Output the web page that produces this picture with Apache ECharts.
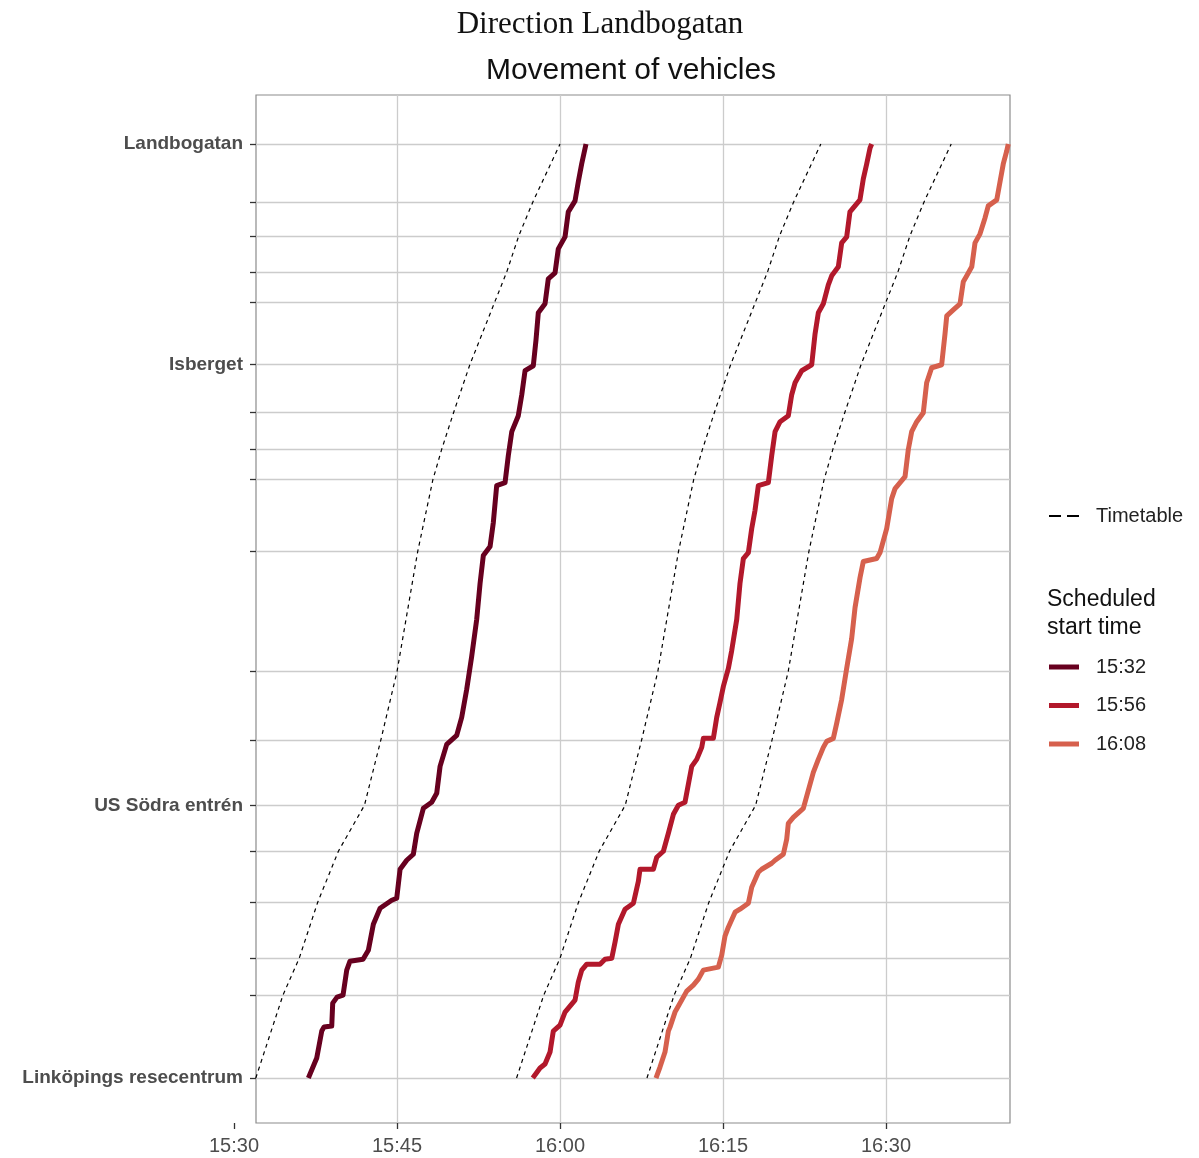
<!DOCTYPE html>
<html>
<head>
<meta charset="utf-8">
<script src="https://cdn.jsdelivr.net/npm/echarts@6/dist/echarts.min.js"></script>
<style>
html,body{margin:0;padding:0;background:#fff;}
#chart{width:1199px;height:1158px;}
</style>
</head>
<body>
<div id="chart"></div>
<script>
// Stops: distance along route (arbitrary units) from Linköpings resecentrum
const stopDist = [0, 83, 120, 176, 227, 273, 338, 407, 527, 599, 629, 666, 714, 777, 807, 843, 877, 935];
const labelNames = ['Linköpings resecentrum', 'US Södra entrén', 'Isberget', 'Landbogatan'];
const labelDist = [0, 273, 714, 935];

// Time in minutes after 15:00
const xTickValues = [30, 45, 60, 75, 90];

// Timetable times at each stop (minutes after 15:00)
const tt1532 = [32.0, 34.5, 36.0, 37.7, 39.6, 42.0, 43.5, 45.0, 46.9, 48.3, 49.1, 50.2, 51.7, 54.0, 55.1, 56.2, 57.5, 60.0];
const tt1556 = [56.0, 58.5, 60.0, 61.7, 63.6, 66.0, 67.5, 69.0, 70.9, 72.3, 73.1, 74.2, 75.7, 78.0, 79.1, 80.2, 81.5, 84.0];
const tt1608 = [68.0, 70.5, 72.0, 73.7, 75.6, 78.0, 79.5, 81.0, 82.9, 84.3, 85.1, 86.2, 87.7, 90.0, 91.1, 92.2, 93.5, 96.0];

// Observed vehicle movement: [minutes after 15:00, distance]
const veh1532 = [[36.84,0],[37.61,20],[38.07,47],[38.28,51],[38.99,52],[39.08,75],[39.48,81],[40.03,83],[40.37,108],[40.67,117],[41.87,119],[42.36,128],[42.82,154],[43.44,170],[44.51,178],[44.97,180],[45.28,209],[45.89,218],[46.50,224],[46.81,245],[47.42,270],[48.19,276],[48.65,285],[48.96,312],[49.57,334],[50.49,343],[50.95,361],[51.41,389],[51.87,422],[52.33,459],[52.64,495],[52.94,523],[53.56,532],[53.86,556],[54.17,593],[54.94,596],[55.24,623],[55.56,647],[56.16,663],[56.48,684],[56.78,708],[57.54,713],[57.79,739],[58.00,766],[58.62,775],[58.92,800],[59.54,806],[59.84,830],[60.46,842],[60.76,867],[61.38,878],[61.68,897],[61.99,915],[62.39,935]];
const veh1556 = [[57.49,0],[58.16,10],[58.62,14],[59.08,26],[59.38,47],[60.00,53],[60.46,66],[61.38,78],[61.68,96],[62.00,108],[62.46,114],[63.68,114],[64.14,119],[64.76,120],[65.06,136],[65.37,154],[65.98,169],[66.75,175],[67.21,197],[67.36,209],[68.59,209],[68.90,221],[69.51,227],[69.97,245],[70.43,264],[70.89,273],[71.50,276],[71.81,294],[72.12,312],[72.58,319],[73.04,331],[73.19,340],[74.11,340],[74.42,361],[74.72,376],[75.03,392],[75.49,410],[75.80,428],[76.26,459],[76.56,495],[76.87,520],[77.33,526],[77.64,550],[77.94,568],[78.25,593],[79.17,596],[79.48,623],[79.79,647],[80.25,657],[81.01,663],[81.32,684],[81.63,696],[82.24,708],[83.16,714],[83.47,745],[83.77,766],[84.23,775],[84.69,794],[85.00,803],[85.61,812],[85.92,836],[86.38,842],[86.68,867],[87.60,879],[87.91,900],[88.22,915],[88.53,931],[88.68,935]];
const veh1608 = [[68.83,0],[69.20,11],[69.66,26],[69.97,47],[70.12,51],[70.58,66],[70.74,69],[71.35,81],[71.66,87],[72.27,93],[72.73,99],[73.19,108],[74.57,111],[74.88,123],[75.18,142],[75.49,151],[76.11,166],[76.56,169],[77.33,175],[77.64,191],[78.25,206],[78.56,209],[79.48,215],[79.79,218],[80.55,224],[80.86,239],[81.01,255],[81.47,261],[82.39,270],[82.85,288],[83.31,306],[83.77,319],[84.23,331],[84.54,337],[85.15,340],[85.46,355],[85.92,379],[86.38,410],[86.84,440],[87.15,471],[87.61,501],[87.91,517],[89.14,520],[89.45,526],[90.06,550],[90.52,580],[90.83,590],[91.29,596],[91.75,602],[92.05,629],[92.36,647],[92.83,657],[93.43,666],[93.74,696],[94.20,711],[94.35,711],[95.12,714],[95.43,745],[95.59,763],[96.19,769],[96.81,775],[97.11,797],[97.43,803],[97.89,812],[98.19,836],[98.65,845],[99.11,861],[99.41,873],[100.19,879],[100.49,897],[100.79,915],[101.11,928],[101.25,935]];

function fmtTime(v) {
  const total = 15 * 60 + Math.round(v);
  const h = Math.floor(total / 60), m = total % 60;
  return h + ':' + (m < 10 ? '0' : '') + m;
}
function zipStops(times) { return times.map((t, i) => [t, stopDist[i]]); }

const chart = echarts.init(document.getElementById('chart'));
const sans = 'Liberation Sans, Arial, sans-serif';
const gridCommon = { top: 95, bottom: 35, right: 189 };

const vehColors = { '15:32': '#67001F', '15:56': '#B2182B', '16:08': '#D6604D' };
function vehSeries(name, data) {
  return {
    name: name, type: 'line', xAxisIndex: 0, yAxisIndex: 0, data: data,
    symbol: 'none', z: 4,
    lineStyle: { color: vehColors[name], width: 5, join: 'round' },
    itemStyle: { color: vehColors[name] }
  };
}
function ttSeries(times) {
  return {
    name: 'Timetable', type: 'line', xAxisIndex: 0, yAxisIndex: 0, data: zipStops(times),
    symbol: 'none', z: 3,
    lineStyle: { color: '#000', width: 1.2, type: [4, 4] },
    itemStyle: { color: '#000' }
  };
}

chart.setOption({
  animation: false,
  backgroundColor: '#fff',
  title: [
    { text: 'Direction Landbogatan', left: 600, top: 9, textAlign: 'center', padding: 0,
      textStyle: { fontFamily: 'Liberation Serif, serif', fontSize: 31, fontWeight: 'normal', color: '#111' } },
    { text: 'Movement of vehicles', left: 631, top: 56, textAlign: 'center', padding: 0,
      textStyle: { fontFamily: sans, fontSize: 30, fontWeight: 'normal', color: '#111' } }
  ],
  graphic: [
    { type: 'text', left: 1047, top: 586,
      style: { text: 'Scheduled\nstart time', font: '23px Liberation Sans', lineHeight: 28, fill: '#111' } }
  ],
  legend: [
    { data: [{ name: 'Timetable', icon: 'path://M0,0h12v2h-12zM18,0h12v2h-12z' }],
      left: 1049, top: 506, padding: 0, itemWidth: 30, itemHeight: 2, symbolKeepAspect: false,
      textStyle: { fontFamily: sans, fontSize: 20, color: '#222', padding: [0, 0, 0, 12] } },
    { data: ['15:32', '15:56', '16:08'], icon: 'rect', orient: 'vertical', left: 1049, top: 657, padding: 0,
      itemWidth: 30, itemHeight: 5, itemGap: 18.5, symbolKeepAspect: false,
      textStyle: { fontFamily: sans, fontSize: 20, color: '#222', padding: [0, 0, 0, 12] } }
  ],
  grid: [
    Object.assign({ left: 256, show: true, borderColor: '#8c8c8c', borderWidth: 1.2, backgroundColor: '#fff' }, gridCommon),
    Object.assign({ left: 234, show: false }, gridCommon)
  ],
  xAxis: [
    { type: 'value', gridIndex: 0, min: 32.02, max: 101.41,
      axisLine: { show: false, onZero: false },
      axisTick: { show: false, customValues: [45, 60, 75, 90] },
      axisLabel: { show: false },
      splitLine: { show: true, lineStyle: { color: '#cccccc', width: 1.3 } } },
    { type: 'value', gridIndex: 1, min: 30, max: 101.41, position: 'bottom',
      axisLine: { show: false, onZero: false },
      axisTick: { show: true, length: 6, customValues: xTickValues, lineStyle: { color: '#333', width: 1.3 } },
      axisLabel: { show: true, customValues: xTickValues, formatter: fmtTime, margin: 13,
        fontFamily: sans, fontSize: 20, color: '#4d4d4d' },
      splitLine: { show: false } }
  ],
  yAxis: [
    { type: 'value', gridIndex: 0, min: -45, max: 984,
      axisLine: { show: false, onZero: false },
      axisTick: { show: true, length: 6, customValues: stopDist, lineStyle: { color: '#333', width: 1.3 } },
      axisLabel: { show: true, customValues: labelDist, margin: 13,
        formatter: function (v) { const i = labelDist.indexOf(v); return i >= 0 ? labelNames[i] : ''; },
        fontFamily: sans, fontSize: 19, fontWeight: 'bold', color: '#4d4d4d' },
      splitLine: { show: true, lineStyle: { color: '#cccccc', width: 1.3 } } },
    { type: 'value', gridIndex: 1, min: -45, max: 984, show: false }
  ],
  series: [
    ttSeries(tt1532), ttSeries(tt1556), ttSeries(tt1608),
    vehSeries('15:32', veh1532), vehSeries('15:56', veh1556), vehSeries('16:08', veh1608)
  ]
});
</script>
</body>
</html>
